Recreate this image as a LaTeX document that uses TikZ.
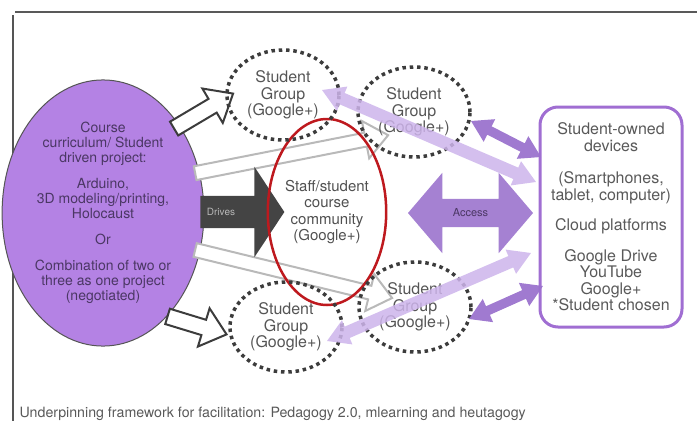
\documentclass[tikz,border=0pt]{standalone}
\usepackage{fontspec}
\setmainfont{TeX Gyre Heros}
\usetikzlibrary{shapes.geometric,shapes.arrows,calc}
\definecolor{projfill}{RGB}{180,130,228}
\definecolor{projtext}{RGB}{75,55,100}
\definecolor{textgray}{RGB}{85,85,85}
\definecolor{dotgray}{RGB}{60,60,60}
\definecolor{linegray}{RGB}{185,185,185}
\definecolor{drivegray}{RGB}{68,68,68}
\definecolor{commred}{RGB}{190,25,30}
\definecolor{boxpurple}{RGB}{160,110,210}
\definecolor{accesspurple}{RGB}{155,115,205}
\definecolor{lavender}{RGB}{205,180,235}

% block arrow laid between two points: [style]{name}{tail}{tip}
\newcommand{\fatarrow}[4][]{%
  \path let \p1=($(#4)-(#3)$), \n1={atan2(\y1,\x1)}, \n2={veclen(\x1,\y1)} in
    node[#1, rotate=\n1, minimum height=\n2] (#2) at ($(#3)!0.5!(#4)$) {};}

\begin{document}
\begin{tikzpicture}[x=1pt,y=-1pt,
  txt/.style={text=textgray, align=center, font=\fontsize{16}{16.5}\selectfont},
  grp/.style={ellipse, draw=dotgray, line width=3.5pt, dash pattern=on 3.5pt off 3.8pt,
    minimum width=112pt, minimum height=90pt, inner sep=0pt, txt},
  hollow/.style={single arrow, draw=dotgray, line width=2pt, fill=white, inner sep=0pt,
    inner ysep=7pt, single arrow head extend=12pt, single arrow tip angle=80},
  ghost/.style={single arrow, draw=linegray, line width=2pt, fill=white, inner sep=0pt,
    inner ysep=6pt, single arrow head extend=12pt, single arrow tip angle=79},
  drives/.style={single arrow, fill=drivegray, inner sep=0pt,
    inner ysep=16pt, single arrow head extend=29pt, single arrow tip angle=113},
  access/.style={double arrow, fill=accesspurple, fill opacity=0.9, inner sep=0pt,
    inner ysep=14pt, double arrow head extend=26pt, double arrow tip angle=99},
  link/.style={double arrow, fill=lavender, fill opacity=0.85, inner sep=0pt,
    inner ysep=6pt, double arrow head extend=7pt, double arrow tip angle=62},
  sync/.style={double arrow, fill=accesspurple, fill opacity=0.95, inner sep=0pt,
    inner ysep=4.5pt, double arrow head extend=8pt, double arrow tip angle=63}]
\useasboundingbox (0,0) rectangle (697,421);

%%% frame
\draw[line width=2.5pt, dotgray!85] (15,12) -- (697,12);
\draw[line width=1.2pt, textgray] (13,15) -- (13,421);

%%% project ellipse
\node[ellipse, draw=textgray, line width=1pt, fill=projfill, minimum width=176pt,
  minimum height=264pt, text=projtext, align=center,
  font=\fontsize{14}{15}\selectfont] (proj) at (103,213)
  {Course\\curriculum/ Student\\driven project:\\[11pt]Arduino,\\3D modeling/printing,\\Holocaust\\[11pt]Or\\[11pt]Combination of two or\\three as one project\\(negotiated)};

%%% arrow end points
\coordinate (ha0) at (170,131);  \coordinate (ha1) at (229,96);
\coordinate (hb0) at (163,315);  \coordinate (hb1) at (222,333);
\coordinate (ga0) at (191,174);  \coordinate (ga1) at (384,136);
\coordinate (gb0) at (191,249);  \coordinate (gb1) at (388,297);
\coordinate (dr0) at (195,212);  \coordinate (dr1) at (279,212);
\coordinate (ac0) at (408,213);  \coordinate (ac1) at (533,213);
\coordinate (la0) at (322,90);   \coordinate (la1) at (536,182);
\coordinate (lb0) at (327,341);  \coordinate (lb1) at (531,253);
\coordinate (sa0) at (471,121);  \coordinate (sa1) at (541,157);
\coordinate (sb0) at (469,319);  \coordinate (sb1) at (543,286);

%%% arrows leaving the project
\fatarrow[hollow]{hupper}{ha0}{ha1}
\fatarrow[hollow]{hlower}{hb0}{hb1}
\fatarrow[ghost]{gupper}{ga0}{ga1}
\fatarrow[ghost]{glower}{gb0}{gb1}
\fatarrow[drives]{drv}{dr0}{dr1}
\node[text=linegray, font=\fontsize{10}{12}\selectfont] (drvtxt) at (221,212) {Drives};

%%% community and student groups
\node[ellipse, draw=commred, line width=2.5pt, minimum width=100pt, minimum height=186pt,
  inner sep=0pt, align=center, text=dotgray!90, font=\fontsize{15}{16.5}\selectfont]
  (comm) at (327,212) {Staff/student\\course\\community\\(Google+)};
\node[grp] (grpa) at (283,95)  {Student\\Group\\(Google+)};
\node[grp] (grpb) at (414,112) {Student\\Group\\(Google+)};
\node[grp] (grpc) at (286,327) {Student\\Group\\(Google+)};
\node[grp] (grpd) at (415,307) {Student\\Group\\(Google+)};

%%% devices and platforms
\node[draw=boxpurple, line width=3pt, rounded corners=18pt, minimum width=142pt,
  minimum height=220pt, txt, text=dotgray!85] (dev) at (611,217)
  {Student-owned\\devices\\[16pt](Smartphones,\\tablet, computer)\\[14pt]Cloud platforms\\[14pt]Google Drive\\YouTube\\Google+\\*Student chosen};

%%% access links
\fatarrow[access]{acc}{ac0}{ac1}
\node[text=projtext, font=\fontsize{11}{13}\selectfont] (acctxt) at (acc) {Access};
\fatarrow[link]{lupper}{la0}{la1}
\fatarrow[link]{llower}{lb0}{lb1}
\fatarrow[sync]{supper}{sa0}{sa1}
\fatarrow[sync]{slower}{sb0}{sb1}

%%% caption
\node[anchor=base west, text=dotgray!85, font=\fontsize{14.2}{16}\selectfont] (note) at (16,417)
  {Underpinning framework for facilitation: Pedagogy 2.0, mlearning and heutagogy};
\end{tikzpicture}
\end{document}
